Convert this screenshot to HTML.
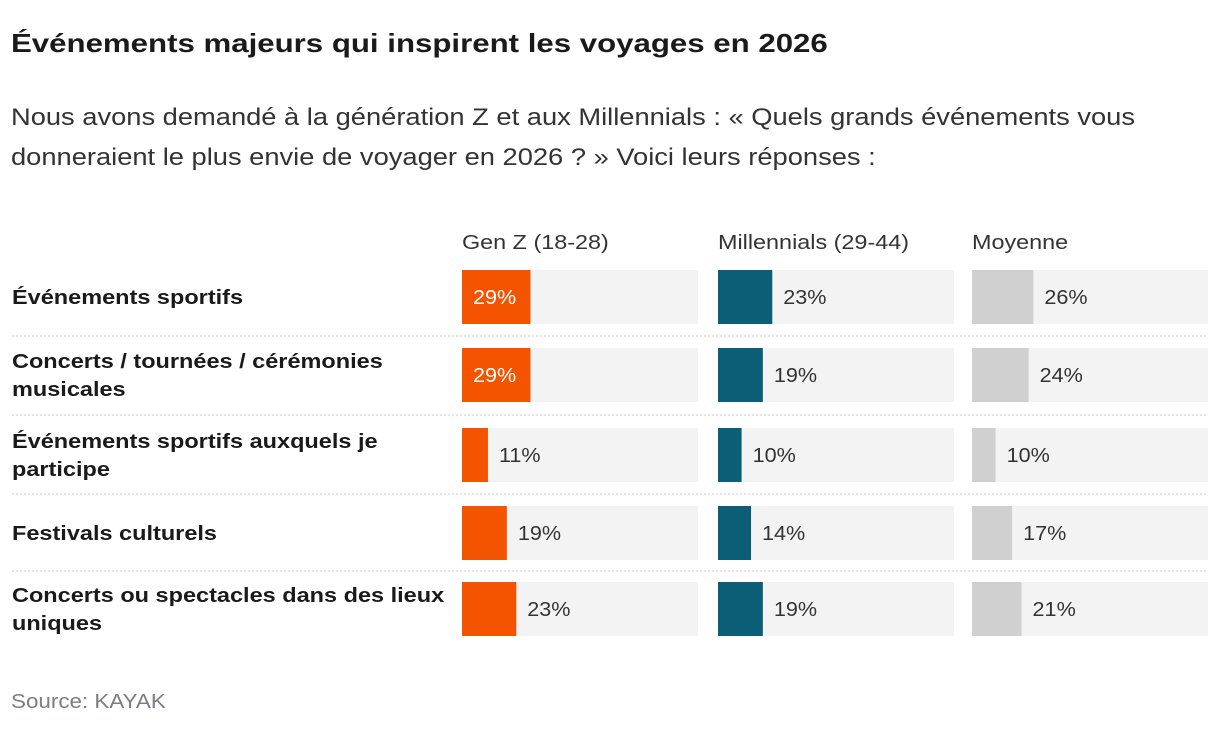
<!DOCTYPE html>
<html><head><meta charset="utf-8">
<style>
body{margin:0;background:#fff;font-family:"Liberation Sans",sans-serif;color:#1a1a1a;}
#wrap{position:relative;width:1220px;height:734px;overflow:hidden;}
.t{position:absolute;white-space:nowrap;transform-origin:0 0;}
</style></head>
<body>
<div id="wrap">
<div class="t" style="left:11px;top:28px;font-size:26px;font-weight:bold;transform:scaleX(1.2);">Événements majeurs qui inspirent les voyages en 2026</div>
<div class="t" style="left:11px;top:98px;font-size:24px;line-height:40px;color:#333;transform:scaleX(1.137);">Nous avons demandé à la génération Z et aux Millennials : « Quels grands événements vous<br>donneraient le plus envie de voyager en 2026 ? » Voici leurs réponses :</div>
<svg id="chart" width="1220" height="734" style="position:absolute;left:0;top:0"></svg>
<div class="t" style="left:11px;top:691px;font-size:20px;color:#7a7f85;transform:scaleX(1.12);">Source: KAYAK</div>
</div>
<script>
const categories = ["Événements sportifs","Concerts / tournées / cérémonies|musicales","Événements sportifs auxquels je|participe","Festivals culturels","Concerts ou spectacles dans des lieux|uniques"];
const seriesNames = ["Gen Z (18-28)","Millennials (29-44)","Moyenne"];
const genZ = [29,29,11,19,23];
const millennials = [23,19,10,14,19];
const moyenne = [26,24,10,17,21];
const seriesValues = [genZ, millennials, moyenne];

const NS="http://www.w3.org/2000/svg";
const svg=document.getElementById('chart');
const colX=[462,718,972], colW=236;
const rowTop=[270,348,428,506,582], barH=54;
const colors=["#F45300","#0B5E76","#D0D0D0"];
const xScale=v=>v/100*colW;
function mk(tag,attrs){const e=document.createElementNS(NS,tag);for(const k in attrs)e.setAttribute(k,attrs[k]);svg.appendChild(e);return e;}
function sx(e,x,k){e.setAttribute('transform',`translate(${x},0) scale(${k},1) translate(${-x},0)`);}
seriesNames.forEach((n,s)=>{
  const t=mk('text',{x:colX[s],y:249,'font-size':20,fill:'#333','font-family':'Liberation Sans, sans-serif'});
  t.textContent=n;
  sx(t,colX[s],1.17);
  
  
});
categories.forEach((c,i)=>{
  const lines=c.split('|');
  const cy=rowTop[i]+barH/2;
  const y0=cy-(lines.length-1)*14+7;
  lines.forEach((l,j)=>{
    const t=mk('text',{x:12,y:y0+j*28,'font-size':20,'font-weight':'bold',fill:'#1a1a1a','font-family':'Liberation Sans, sans-serif'});
    t.textContent=l;
    sx(t,12,1.175);
    
    
  });
  if(i<categories.length-1){
    const sy=(rowTop[i]+barH+rowTop[i+1])/2;
    const ln=mk('line',{x1:12,x2:1208,y1:sy,y2:sy,stroke:'#c8c8c8','stroke-width':1,'stroke-dasharray':'2,2'});
    
    
  }
  seriesValues.forEach((vals,s)=>{
    const tr=mk('rect',{x:colX[s],y:rowTop[i],width:colW,height:barH,fill:'#F3F3F3'});
    
    
    const w=xScale(vals[i]);
    const b=mk('rect',{x:colX[s],y:rowTop[i],width:w,height:barH,fill:colors[s]});
    
    
    const inside = s===0 && vals[i]>=25;
    const lx=inside?colX[s]+11:colX[s]+w+11;
    const lbl=mk('text',{x:lx,y:cy+7,'font-size':20,fill:inside?'#fff':'#333','font-family':'Liberation Sans, sans-serif'});
    lbl.textContent=vals[i]+'%';
    sx(lbl,lx,1.08);
    
    
  });
});
</script>
</body></html>
